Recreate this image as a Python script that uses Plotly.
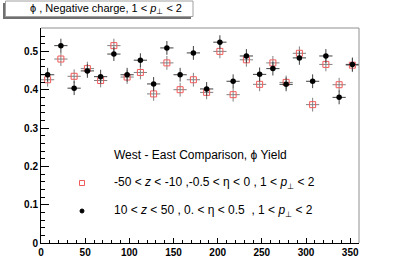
import plotly.graph_objects as go

phi_centers = [7.5 + 15 * i for i in range(24)]
phi_halfwidth = [7.5] * 24

west_vals = [0.426, 0.480, 0.435, 0.455, 0.424, 0.515, 0.433, 0.445,
             0.389, 0.470, 0.400, 0.426, 0.393, 0.500, 0.387, 0.478,
             0.414, 0.470, 0.419, 0.495, 0.361, 0.466, 0.413, 0.464]
west_errs = [0.018] * 24

east_vals = [0.439, 0.515, 0.404, 0.449, 0.434, 0.493, 0.439, 0.477,
             0.415, 0.509, 0.439, 0.496, 0.402, 0.524, 0.422, 0.488,
             0.440, 0.455, 0.414, 0.483, 0.422, 0.488, 0.380, 0.466]
east_errs = [0.018] * 24

W, H = 399, 271
L, R, T, B = 41, 359, 28, 243


def px(x):
    return (x - L) / (R - L)


def py(y):
    return (B - y) / (B - T)


fig = go.Figure()
fig.add_trace(go.Scatter(
    x=phi_centers, y=west_vals, mode="markers",
    error_x=dict(type="data", array=phi_halfwidth, width=0, thickness=1, color="#808080"),
    error_y=dict(type="data", array=west_errs, width=0, thickness=1, color="#808080"),
    marker=dict(symbol="square-open", size=6, color="#f05a5a", line=dict(width=1, color="#f05a5a")),
    showlegend=False))
fig.add_trace(go.Scatter(
    x=phi_centers, y=east_vals, mode="markers",
    error_x=dict(type="data", array=phi_halfwidth, width=0, thickness=1, color="#404040"),
    error_y=dict(type="data", array=east_errs, width=0, thickness=1, color="#404040"),
    marker=dict(symbol="circle", size=5.5, color="black"),
    showlegend=False))

tickfont = dict(family="Liberation Sans, Arial", size=10, color="black", weight="bold")
fig.update_xaxes(range=[0, 360], showgrid=False, zeroline=False, automargin=False,
                 showline=True, linecolor="black", linewidth=1,
                 tickmode="linear", tick0=0, dtick=50, ticks="inside", ticklen=5,
                 tickcolor="black", tickfont=tickfont,
                 minor=dict(dtick=10, ticks="inside", ticklen=3, tickcolor="black"))
fig.update_yaxes(range=[0, 0.561], showgrid=False, zeroline=False, automargin=False,
                 showline=True, linecolor="black", linewidth=1,
                 tickmode="linear", tick0=0, dtick=0.1, ticks="inside", ticklen=8,
                 tickcolor="black", tickfont=tickfont,
                 minor=dict(dtick=0.02, ticks="inside", ticklen=4, tickcolor="black"))

shapes = []
# top and right frame lines
shapes.append(dict(type="line", xref="paper", yref="paper", x0=0, x1=1, y0=1, y1=1,
                   line=dict(color="#909090", width=1)))
shapes.append(dict(type="line", xref="paper", yref="paper", x0=1, x1=1, y0=0, y1=1,
                   line=dict(color="#909090", width=1)))
# title box shadow and box
shapes.append(dict(type="rect", xref="paper", yref="paper",
                   x0=px(3), x1=px(191), y0=py(19), y1=py(3),
                   fillcolor="#707070", line=dict(width=0)))
shapes.append(dict(type="rect", xref="paper", yref="paper",
                   x0=px(5.5), x1=px(193), y0=py(16.5), y1=py(1),
                   fillcolor="white", line=dict(color="#a0a0a0", width=1)))
# legend markers
shapes.append(dict(type="rect", xref="paper", yref="paper",
                   x0=px(79.5), x1=px(84.5), y0=py(185.5), y1=py(180.5),
                   fillcolor="white", line=dict(color="#f05a5a", width=1)))
shapes.append(dict(type="circle", xref="paper", yref="paper",
                   x0=px(80), x1=px(84), y0=py(213), y1=py(209),
                   fillcolor="black", line=dict(color="black", width=1)))

font = dict(family="Liberation Sans, Arial", size=12, color="black")
annotations = [
    dict(text="ϕ , Negative charge, 1 < <i>p</i><sub>⊥</sub> < 2", xref="paper", yref="paper",
         x=px(106), y=py(9), xanchor="center", yanchor="middle", showarrow=False,
         font=dict(family="Liberation Sans, Arial", size=11, color="black")),
    dict(text="West - East Comparison, ϕ Yield", xref="paper", yref="paper",
         x=px(112), y=py(155), xanchor="left", yanchor="middle", showarrow=False, font=font),
    dict(text="-50 < <i>z</i> < -10 ,-0.5 < η < 0 , 1 < <i>p</i><sub>⊥</sub> < 2", xref="paper", yref="paper",
         x=px(112), y=py(183), xanchor="left", yanchor="middle", showarrow=False, font=font),
    dict(text="10 < <i>z</i> < 50 , 0. < η < 0.5  , 1 < <i>p</i><sub>⊥</sub> < 2", xref="paper", yref="paper",
         x=px(112), y=py(211), xanchor="left", yanchor="middle", showarrow=False, font=font),
]

fig.update_layout(width=W, height=H, autosize=False,
                  margin=dict(l=L, r=W - R, t=T, b=H - B, pad=0),
                  paper_bgcolor="white", plot_bgcolor="white",
                  shapes=shapes, annotations=annotations)

fig.write_html("out.html", config={"displayModeBar": False},
               post_script="document.body.style.margin='0';document.body.style.overflow='hidden';")
